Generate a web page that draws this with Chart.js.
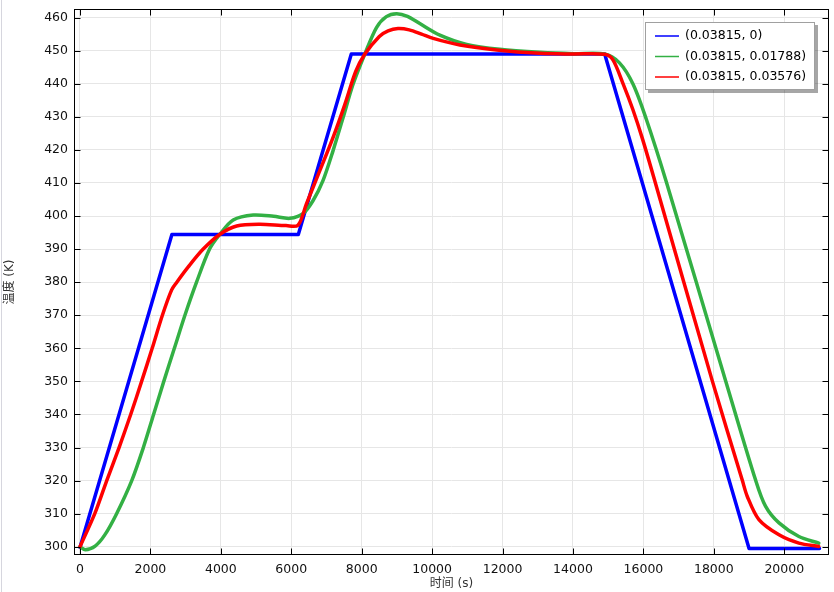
<!DOCTYPE html>
<html>
<head>
<meta charset="utf-8">
<script src="https://cdn.jsdelivr.net/npm/chart.js@4"></script>
<style>
  html, body { margin: 0; padding: 0; background: #fff; }
</style>
</head>
<body>
<canvas id="tempChart" width="834" height="592"></canvas>
<script>
const FONT = "'DejaVu Sans', 'Noto Sans CJK SC', sans-serif";

// axis ticks
const xTicks = [0, 2000, 4000, 6000, 8000, 10000, 12000, 14000, 16000, 18000, 20000];
const yTicks = [300, 310, 320, 330, 340, 350, 360, 370, 380, 390, 400, 410, 420, 430, 440, 450, 460];

// series labels and colours
const seriesLabels = ["(0.03815, 0)", "(0.03815, 0.01788)", "(0.03815, 0.03576)"];
const seriesColors = ["#0000ff", "#33b044", "#ff0000"];

// time (s) / temperature (K)
const blueTime = [0, 2610, 6200, 7705, 14900, 19000, 21000];
const blueTemp = [299.8, 394.4, 394.4, 449.0, 449.0, 299.5, 299.5];

const greenTime = [0, 150, 430, 700, 1040, 1470, 1800, 2090, 2380, 2680, 2980, 3310, 3680, 3975, 4350, 4920, 5500, 5960,
  6330, 6620, 6900, 7185, 7470, 7750, 8085, 8420, 8700, 8990, 9300, 9650, 10220, 10980, 11920, 13060, 14000, 14900,
  15320, 15700, 16075, 16660, 18340, 19190, 19470, 19850, 20415, 20980];
const greenTemp = [300, 299.1, 300.2, 303.5, 310, 320, 330, 340, 350, 360, 370, 380, 390, 394.5, 398.8, 400.3, 399.9, 399.3,
  400.7, 404.7, 410.7, 419.7, 429.7, 439.7, 448.9, 457.0, 460.3, 461.2, 460.4, 458.2, 454.7, 451.9, 450.4, 449.5, 449.1, 449.0,
  446.3, 440.0, 429.5, 410, 350, 320, 312.2, 307.2, 303.1, 301.1];

const redTime = [0, 420, 760, 1110, 1440, 1750, 2050, 2340, 2600, 2750, 3080, 3500, 3975, 4450, 5100, 5850, 6190,
  6430, 6810, 7185, 7520, 7830, 8085, 8500, 8750, 9030, 9350, 9700, 10030, 10790, 11830, 13060, 14000, 14900,
  15130, 15415, 15700, 15980, 16340, 17960, 18810, 18950, 19280, 19850, 20415, 20980];
const redTemp = [300, 310, 320, 330, 340, 350, 360, 370, 377.6, 380, 384.7, 390, 394.5, 397, 397.5, 397.1, 397.2,
  403.7, 413.7, 423.7, 433.7, 443.7, 448.9, 454.3, 456.0, 456.7, 456.3, 455.0, 453.7, 451.7, 450.2, 449.2, 449.0, 448.9,
  447.3, 440.2, 432.2, 423.1, 410, 350, 320, 315.2, 308.2, 303.6, 301.1, 300.1];

function toPoints(xs, ys) {
  return xs.map((x, i) => ({ x: x, y: ys[i] }));
}

// frame, inward ticks and the faint page edge
const framePlugin = {
  id: "frame",
  beforeDraw(chart) {
    const ctx = chart.ctx;
    ctx.save();
    ctx.fillStyle = "#d6d6de";
    ctx.fillRect(1, 0, 1, chart.height);
    ctx.restore();
  },
  afterDatasetsDraw(chart) {
    const { ctx, chartArea: a, scales } = chart;
    const L = Math.round(a.left) + 0.5, R = Math.round(a.right) - 0.5;
    const T = Math.round(a.top) + 0.5, B = Math.round(a.bottom) - 0.5;
    ctx.save();
    ctx.strokeStyle = "#000";
    ctx.lineWidth = 1;
    ctx.strokeRect(L, T, R - L, B - T);
    ctx.beginPath();
    scales.x.ticks.forEach((t) => {
      const px = Math.round(scales.x.getPixelForValue(t.value)) + 0.5;
      ctx.moveTo(px, B); ctx.lineTo(px, B - 6);
      ctx.moveTo(px, T); ctx.lineTo(px, T + 6);
    });
    scales.y.ticks.forEach((t) => {
      const py = Math.round(scales.y.getPixelForValue(t.value)) + 0.5;
      ctx.moveTo(L, py); ctx.lineTo(L + 6, py);
      ctx.moveTo(R, py); ctx.lineTo(R - 6, py);
    });
    ctx.stroke();
    ctx.restore();
  },
  afterDraw(chart) {
    // legend box in the top right corner
    const ctx = chart.ctx;
    const bx = 645, by = 22, bw = 170, bh = 68;
    ctx.save();
    ctx.fillStyle = "rgba(0,0,0,0.35)";
    ctx.fillRect(bx + 3, by + 3, bw, bh);
    ctx.fillStyle = "#fff";
    ctx.fillRect(bx, by, bw, bh);
    ctx.strokeStyle = "#a0a0a0";
    ctx.lineWidth = 1;
    ctx.strokeRect(bx + 0.5, by + 0.5, bw - 1, bh - 1);
    ctx.font = "12.5px " + FONT;
    ctx.textBaseline = "middle";
    const rows = [36, 56.5, 77];
    chart.data.datasets.forEach((ds, i) => {
      const y = rows[i];
      ctx.strokeStyle = ds.borderColor;
      ctx.lineWidth = 1.5;
      ctx.beginPath();
      ctx.moveTo(655, y); ctx.lineTo(679, y);
      ctx.stroke();
      ctx.fillStyle = "#000";
      ctx.fillText(ds.label, 685, y);
    });
    ctx.restore();
  }
};

const ctx = document.getElementById("tempChart").getContext("2d");
new Chart(ctx, {
  type: "line",
  data: {
    datasets: [
      { label: seriesLabels[0], data: toPoints(blueTime, blueTemp), borderColor: seriesColors[0], order: 2, tension: 0 },
      { label: seriesLabels[1], data: toPoints(greenTime, greenTemp), borderColor: seriesColors[1], order: 1, tension: 0.3 },
      { label: seriesLabels[2], data: toPoints(redTime, redTemp), borderColor: seriesColors[2], order: 0, tension: 0.3 },
    ],
  },
  options: {
    responsive: false,
    animation: false,
    layout: { padding: { top: 9, right: 5, left: 0, bottom: 0 } },
    elements: {
      point: { radius: 0 },
      line: { borderWidth: 3.5, fill: false, borderCapStyle: "round", borderJoinStyle: "round" },
    },
    plugins: {
      legend: { display: false },
      tooltip: { enabled: false },
    },
    scales: {
      x: {
        type: "linear",
        min: -170,
        max: 21270,
        afterFit: (s) => { s.height = 37; s.paddingLeft = 0; s.paddingRight = 0; },
        afterBuildTicks: (s) => { s.ticks = xTicks.map((v) => ({ value: v })); },
        ticks: {
          autoSkip: false, maxRotation: 0, padding: 7,
          color: "#111", font: { family: FONT, size: 12.5 },
          callback: (v) => String(v),
        },
        grid: { color: "#e6e6e6", drawTicks: false },
        border: { display: false },
        title: { display: true, text: "时间 (s)", color: "#333", padding: { top: 0, bottom: 1 }, font: { family: FONT, size: 12 } },
      },
      y: {
        type: "linear",
        min: 297.5,
        max: 462.6,
        afterFit: (s) => { s.width = 74; s.paddingTop = 0; s.paddingBottom = 0; },
        afterBuildTicks: (s) => { s.ticks = yTicks.map((v) => ({ value: v })); },
        ticks: {
          autoSkip: false, padding: 6,
          color: "#111", font: { family: FONT, size: 12.5 },
          callback: (v) => String(v),
        },
        grid: { color: "#e6e6e6", drawTicks: false },
        border: { display: false },
        title: { display: true, text: "温度 (K)", color: "#333", padding: { top: 3, bottom: 0 }, font: { family: FONT, size: 12 } },
      },
    },
  },
  plugins: [framePlugin],
});
</script>
</body>
</html>
